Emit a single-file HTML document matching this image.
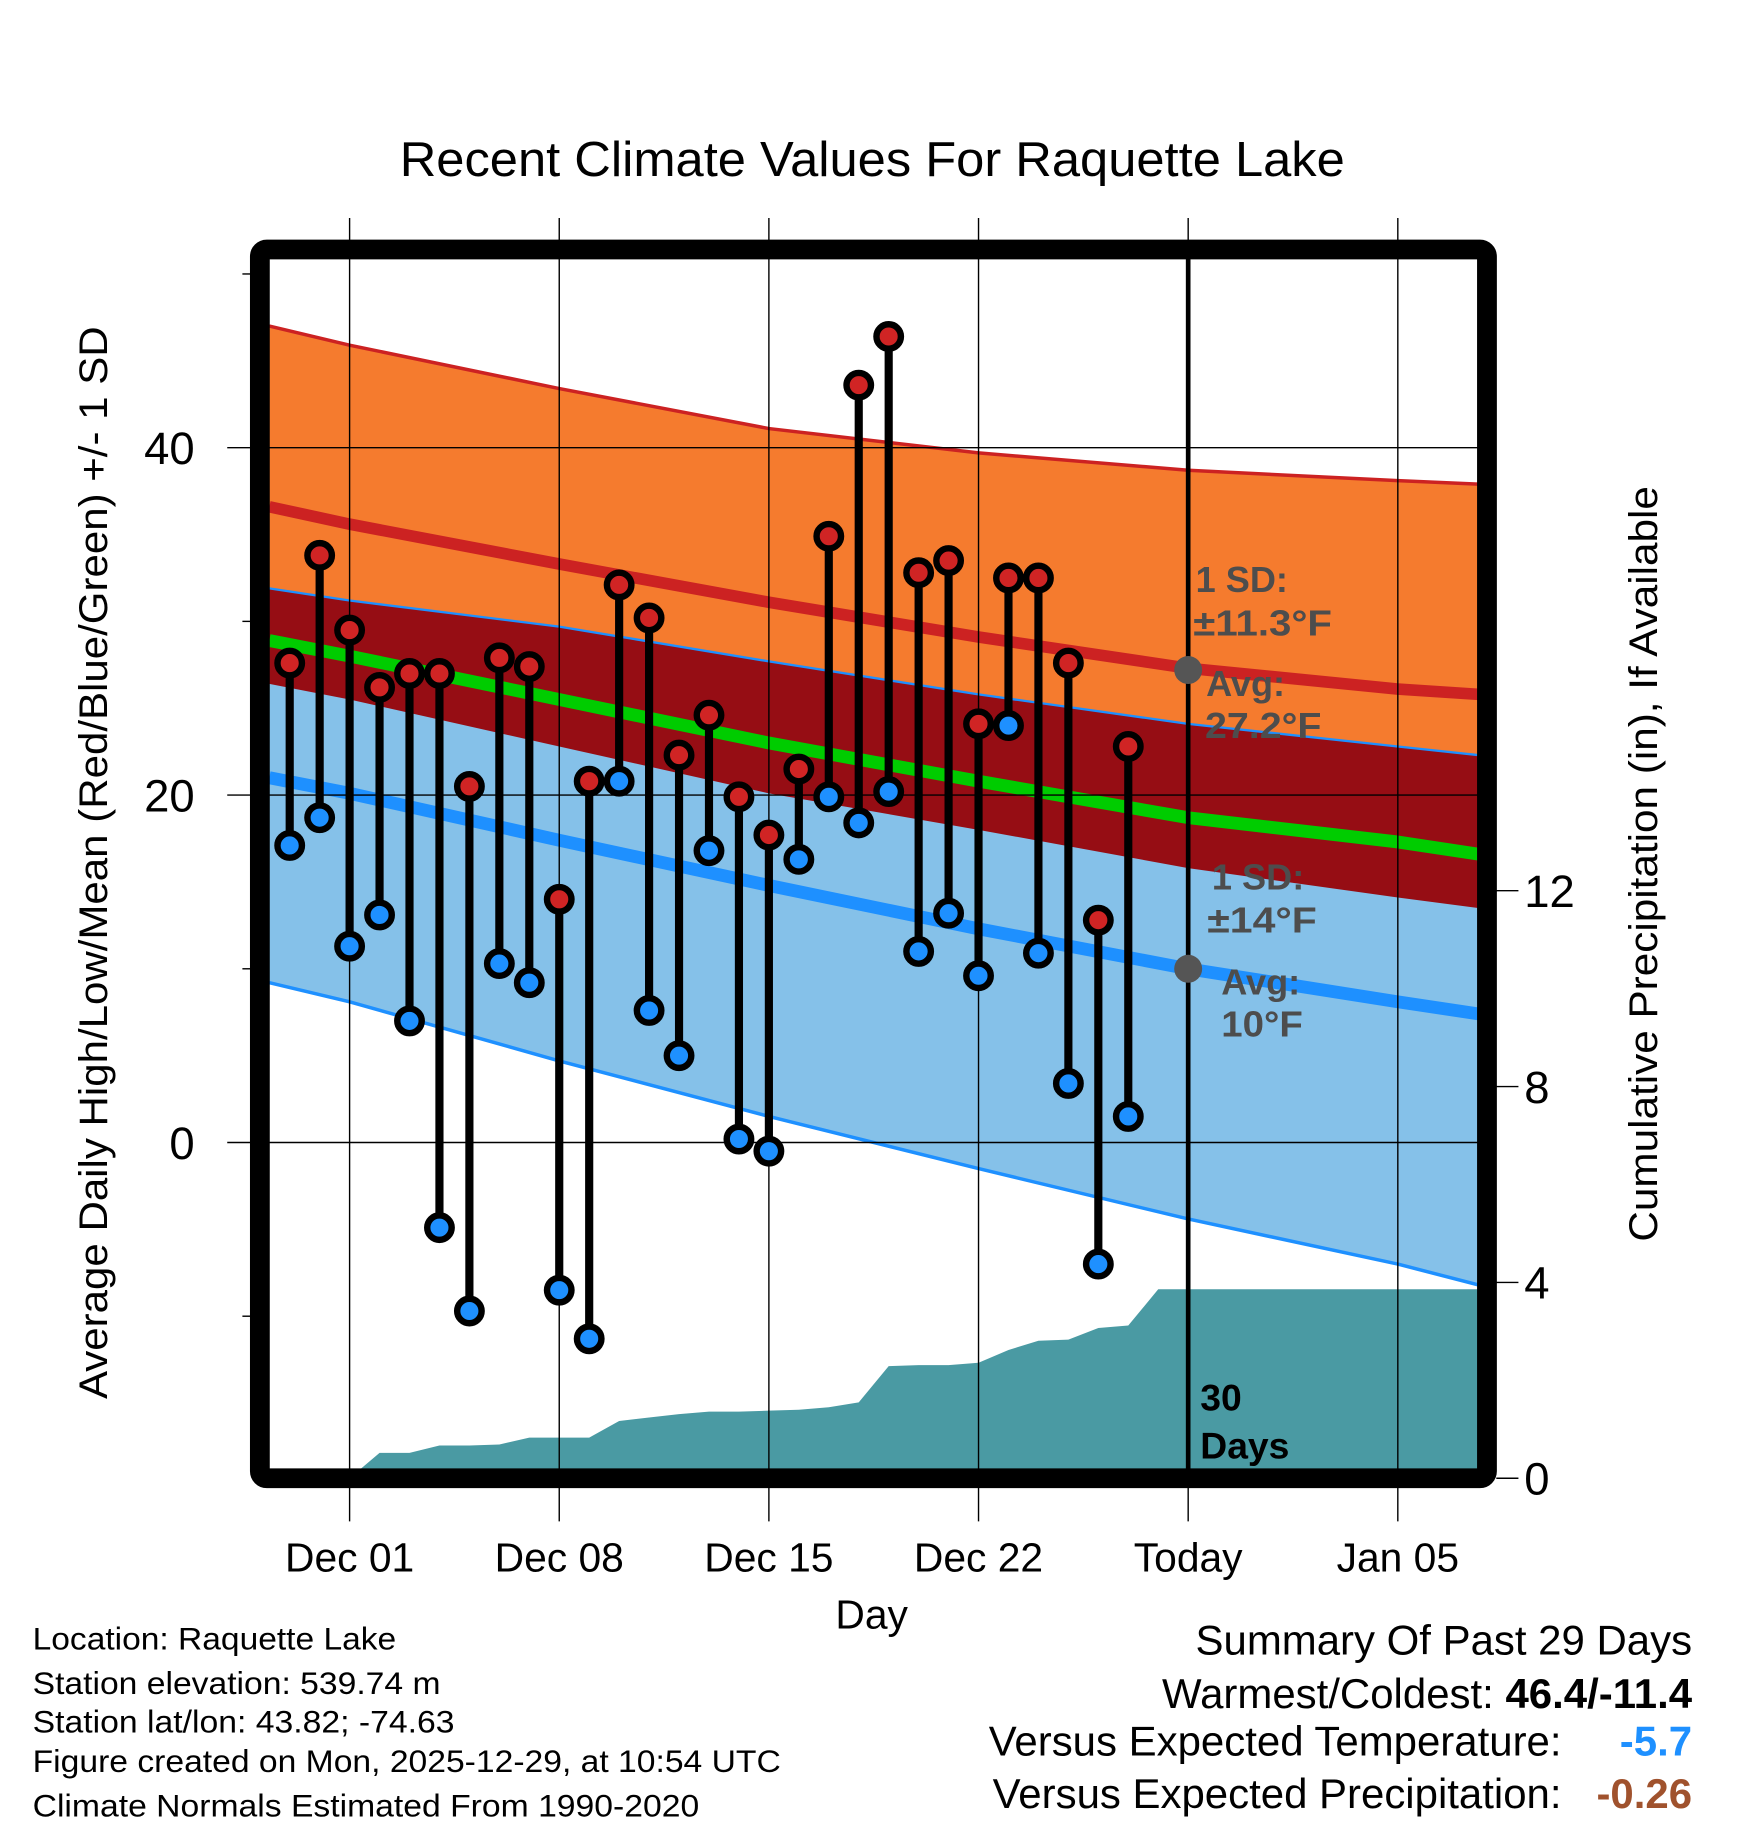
<!DOCTYPE html>
<html><head><meta charset="utf-8"><style>
html,body{margin:0;padding:0;background:#fff}
svg{display:block}
text{font-family:"Liberation Sans",Arial,sans-serif}
</style></head><body>
<svg id="chart" xmlns="http://www.w3.org/2000/svg" width="1748" height="1828" viewBox="0 0 1500 1568" preserveAspectRatio="none">
<defs><clipPath id="pc"><rect x="231" y="222" width="1037" height="1038"/></clipPath></defs>
<g id="bands" clip-path="url(#pc)"></g>
<g id="grid"></g>
<g id="marks"></g>
<rect x="223" y="214" width="1053" height="1054" rx="6" fill="none" stroke="#000" stroke-width="17"/>
<g id="axes"></g>
<text x="343" y="151" font-size="42" textLength="811" lengthAdjust="spacingAndGlyphs">Recent Climate Values For Raquette Lake</text>
<text transform="translate(92,1200) rotate(-90)" font-size="34" textLength="920" lengthAdjust="spacingAndGlyphs">Average Daily High/Low/Mean (Red/Blue/Green) +/- 1 SD</text>
<text transform="translate(1422,1065) rotate(-90)" font-size="34" textLength="648" lengthAdjust="spacingAndGlyphs">Cumulative Precipitation (in), If Available</text>
<text x="748" y="1397" font-size="35" text-anchor="middle">Day</text>
<g font-size="31" font-weight="bold" fill="#4d4d4d">
<text x="1026" y="508">1 SD:</text><text x="1024" y="545" textLength="119" lengthAdjust="spacingAndGlyphs">±11.3°F</text>
<text x="1035" y="597">Avg:</text><text x="1034" y="633" textLength="100" lengthAdjust="spacingAndGlyphs">27.2°F</text></g>
<g font-size="31" font-weight="bold" fill="#4d4d4d">
<text x="1040" y="763">1 SD:</text><text x="1036" y="800" textLength="94" lengthAdjust="spacingAndGlyphs">±14°F</text>
<text x="1048" y="853">Avg:</text><text x="1048" y="889" textLength="70" lengthAdjust="spacingAndGlyphs">10°F</text></g>
<g font-size="32" font-weight="bold"><text x="1030" y="1210">30</text><text x="1030" y="1251">Days</text></g>
<g font-size="27">
<text x="28" y="1415" textLength="312" lengthAdjust="spacingAndGlyphs">Location: Raquette Lake</text>
<text x="28" y="1453" textLength="350" lengthAdjust="spacingAndGlyphs">Station elevation: 539.74 m</text>
<text x="28" y="1486" textLength="362" lengthAdjust="spacingAndGlyphs">Station lat/lon: 43.82; -74.63</text>
<text x="28" y="1520" textLength="642" lengthAdjust="spacingAndGlyphs">Figure created on Mon, 2025-12-29, at 10:54 UTC</text>
<text x="28" y="1558" textLength="572" lengthAdjust="spacingAndGlyphs">Climate Normals Estimated From 1990-2020</text></g>
<g font-size="36" text-anchor="end">
<text x="1452" y="1419">Summary Of Past 29 Days</text>
<text x="1452" y="1465">Warmest/Coldest: <tspan font-weight="bold">46.4/-11.4</tspan></text>
<text x="1340" y="1506">Versus Expected Temperature:</text>
<text x="1452" y="1506" font-weight="bold" fill="#1e90ff">-5.7</text>
<text x="1340" y="1551">Versus Expected Precipitation:</text>
<text x="1452" y="1551" font-weight="bold" fill="#a0522d">-0.26</text></g>
</svg>
<script>
// normals sampled at day offsets from Dec 01
const normDays=[-2.68,0,7,14,21,28,35,37.7];
const hiUpper=[47.0,45.9,43.4,41.1,39.7,38.7,38.1,37.9];
const hiAvg=[36.6,35.6,33.3,31.1,29.1,27.3,26.1,25.8];
const hiLower=[26.4,25.5,22.8,20.1,18.0,15.8,14.1,13.5];
const meanAvg=[28.9,28.0,25.5,23.0,20.8,18.7,17.3,16.6];
const loUpper=[31.9,31.2,29.7,27.7,25.8,24.1,22.8,22.3];
const loAvg=[21.0,20.1,17.4,14.8,12.3,10.0,8.1,7.4];
const loLower=[9.2,8.1,4.7,1.5,-1.5,-4.4,-7.0,-8.2];
// observations Nov 29 .. Dec 27 (day offset -2 .. 26)
const highs=[27.6,33.8,29.5,26.2,27.0,27.0,20.5,27.9,27.4,14.0,20.8,32.1,30.2,22.3,24.6,19.9,17.7,21.5,34.9,43.6,46.4,32.8,33.5,24.1,32.5,32.5,27.6,12.8,22.8];
const lows=[17.1,18.7,11.3,13.1,7.0,-4.9,-9.7,10.3,9.2,-8.5,-11.3,20.8,7.6,5.0,16.8,0.2,-0.5,16.3,19.9,18.4,20.2,11.0,13.2,9.6,24.0,10.9,3.4,-7.0,1.5];
// cumulative precip, Dec 01 .. Dec 28
const precip=[0,0.52,0.52,0.67,0.67,0.69,0.83,0.83,0.83,1.17,1.24,1.31,1.36,1.36,1.38,1.40,1.45,1.55,2.29,2.31,2.31,2.36,2.62,2.81,2.83,3.07,3.12,3.86];
const xTickDays=[0,7,14,21,28,35];
const xTickLabels=["Dec 01","Dec 08","Dec 15","Dec 22","Today","Jan 05"];
const yTicks=[0,20,40];
const yMinor=[-10,10,30,50];
const y2Ticks=[0,4,8,12];

const X=d=>300+d*25.7;
const Y=t=>980-t*14.9;
const Y2=p=>1268-p*42;
const NS='http://www.w3.org/2000/svg';
function mk(tag,parent,attrs){const e=document.createElementNS(NS,tag);for(const k in attrs)e.setAttribute(k,attrs[k]);parent.appendChild(e);return e;}
const bands=document.getElementById('bands'),grid=document.getElementById('grid'),marks=document.getElementById('marks'),axes=document.getElementById('axes');
const line=a=>normDays.map((d,i)=>X(d).toFixed(1)+','+Y(a[i]).toFixed(1));
function band(top,bot,fill,name){const p=line(top).concat(line(bot).reverse());const e=mk('polygon',bands,{points:p.join(' '),fill:fill});

}
function pl(a,col,w,name){const e=mk('polyline',bands,{points:line(a).join(' '),fill:'none',stroke:col,'stroke-width':w});

}
band(hiUpper,hiLower,'#f57b2e','high-sd-band');
band(loUpper,loLower,'#85c1e9','low-sd-band');
band(loUpper,hiLower,'#960d14','overlap-band');
pl(hiUpper,'#cc2222',3,'high-upper-line');
pl(hiAvg,'#cc2222',10,'high-avg-line');
pl(loUpper,'#1e90ff',2,'low-upper-line');
pl(meanAvg,'#00cc00',11,'mean-avg-line');
pl(loAvg,'#1e90ff',11,'low-avg-line');
pl(loLower,'#1e90ff',3,'low-lower-line');
// precip area
let pts=[X(0)+','+1270];
precip.forEach((p,i)=>pts.push(X(i).toFixed(1)+','+Y2(p).toFixed(1)));
pts.push('1270,'+Y2(precip[precip.length-1]).toFixed(1));pts.push('1270,1270');
const pa=mk('polygon',bands,{points:pts.join(' '),fill:'#4a9aa3'});


// grid
xTickDays.forEach((d,i)=>{const g=mk('line',grid,{x1:X(d),x2:X(d),y1:187,y2:1305,stroke:'#000','stroke-width':1.2});


const t=mk('text',axes,{x:X(d),y:1348,'font-size':35,'text-anchor':'middle'});t.textContent=xTickLabels[i];

});
yTicks.forEach(v=>{const g=mk('line',grid,{x1:195,x2:1268,y1:Y(v),y2:Y(v),stroke:'#000','stroke-width':1.2});


const t=mk('text',axes,{x:167,y:Y(v)+14,'font-size':39,'text-anchor':'end'});t.textContent=v;

});
yMinor.forEach(v=>{const g=mk('line',axes,{x1:208,x2:216,y1:Y(v),y2:Y(v),stroke:'#000','stroke-width':1.2});

});
y2Ticks.forEach(v=>{const g=mk('line',axes,{x1:1284,x2:1303,y1:Y2(v),y2:Y2(v),stroke:'#000','stroke-width':1.2});


const t=mk('text',axes,{x:1308,y:Y2(v)+14,'font-size':39});t.textContent=v;

});
const tl=mk('line',marks,{x1:X(28),x2:X(28),y1:222,y2:1260,stroke:'#000','stroke-width':4});


[[27.2,'high'],[10,'low']].forEach(a=>{const c=mk('circle',marks,{cx:X(28),cy:Y(a[0]),r:12,fill:'#555'});

});
highs.forEach((h,i)=>{const x=X(i-2);
const s=mk('line',marks,{x1:x,x2:x,y1:Y(h),y2:Y(lows[i]),stroke:'#000','stroke-width':7});


const ch=mk('circle',marks,{cx:x,cy:Y(h),r:10.5,fill:'#d02424',stroke:'#000','stroke-width':5.5});


const cl=mk('circle',marks,{cx:x,cy:Y(lows[i]),r:10.5,fill:'#1e90ff',stroke:'#000','stroke-width':5.5});

});
</script>
</body></html>
